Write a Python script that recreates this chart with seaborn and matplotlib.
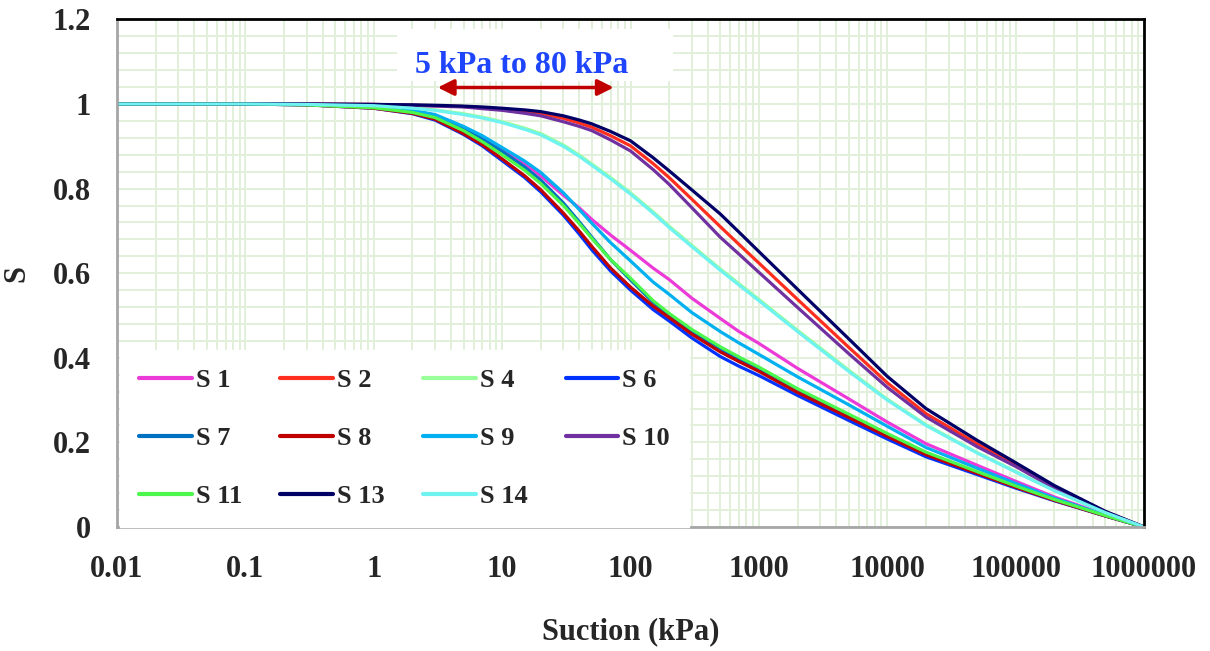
import numpy as np
import pandas as pd
import matplotlib
matplotlib.use("Agg")
import matplotlib.pyplot as plt
import seaborn as sns
from matplotlib.ticker import LogLocator, MultipleLocator, FixedLocator, FixedFormatter, NullFormatter
from matplotlib.patches import Rectangle

# ---------------- data ----------------
suction = [0.01, 0.1, 0.3, 1, 2, 3, 5, 7, 10, 15, 20, 30, 40, 50, 70, 100, 150, 200, 300,
           500, 700, 1000, 2000, 5000, 1e4, 2e4, 5e4, 1e5, 2e5, 5e5, 1e6]

s1 = [1, 1, 0.999, 0.993, 0.984, 0.974, 0.945, 0.922, 0.893, 0.859, 0.83, 0.784, 0.754, 0.727,
      0.69, 0.654, 0.612, 0.585, 0.541, 0.493, 0.462, 0.434, 0.375, 0.303, 0.248, 0.197, 0.146,
      0.108, 0.071, 0.029, 0]
s2 = [1, 1, 1, 0.999, 0.997, 0.996, 0.994, 0.991, 0.988, 0.983, 0.978, 0.966, 0.955, 0.945,
      0.925, 0.901, 0.859, 0.826, 0.775, 0.71, 0.668, 0.624, 0.538, 0.425, 0.341, 0.268, 0.197,
      0.147, 0.095, 0.036, 0]
s4 = [1, 1, 0.999, 0.996, 0.991, 0.986, 0.977, 0.969, 0.958, 0.943, 0.93, 0.903, 0.879, 0.858,
      0.826, 0.79, 0.745, 0.711, 0.666, 0.61, 0.575, 0.538, 0.465, 0.371, 0.302, 0.242, 0.176,
      0.131, 0.086, 0.034, 0]
s6 = [1, 1, 0.998, 0.99, 0.977, 0.962, 0.928, 0.901, 0.866, 0.826, 0.792, 0.737, 0.692, 0.655,
      0.605, 0.56, 0.514, 0.487, 0.447, 0.403, 0.38, 0.358, 0.311, 0.252, 0.208, 0.166, 0.124,
      0.092, 0.062, 0.026, 0]
s7 = [1, 1, 0.998, 0.992, 0.982, 0.971, 0.941, 0.917, 0.888, 0.851, 0.82, 0.766, 0.721, 0.685,
      0.632, 0.584, 0.531, 0.5, 0.461, 0.418, 0.395, 0.372, 0.322, 0.263, 0.218, 0.174, 0.129,
      0.095, 0.064, 0.026, 0]
s8 = [1, 1, 0.998, 0.99, 0.978, 0.964, 0.93, 0.904, 0.87, 0.83, 0.797, 0.742, 0.699, 0.663,
      0.612, 0.567, 0.522, 0.495, 0.456, 0.414, 0.391, 0.368, 0.318, 0.259, 0.214, 0.171, 0.127,
      0.094, 0.063, 0.026, 0]
s9 = [1, 1, 0.999, 0.993, 0.985, 0.975, 0.947, 0.925, 0.897, 0.865, 0.838, 0.79, 0.75, 0.718,
      0.672, 0.629, 0.579, 0.55, 0.507, 0.462, 0.435, 0.408, 0.355, 0.289, 0.238, 0.188, 0.139,
      0.103, 0.068, 0.028, 0]
s10 = [1, 1, 1, 0.999, 0.997, 0.995, 0.993, 0.989, 0.985, 0.978, 0.972, 0.958, 0.947, 0.937,
       0.915, 0.889, 0.845, 0.81, 0.755, 0.685, 0.645, 0.602, 0.519, 0.41, 0.33, 0.26, 0.19,
       0.143, 0.092, 0.035, 0]
s11 = [1, 1, 0.998, 0.991, 0.98, 0.968, 0.937, 0.911, 0.88, 0.843, 0.812, 0.76, 0.717, 0.682,
       0.632, 0.588, 0.535, 0.505, 0.467, 0.426, 0.402, 0.378, 0.327, 0.267, 0.221, 0.177, 0.131,
       0.097, 0.065, 0.027, 0]
s13 = [1, 1, 1, 0.999, 0.998, 0.997, 0.995, 0.993, 0.99, 0.986, 0.982, 0.972, 0.962, 0.953,
       0.935, 0.913, 0.873, 0.842, 0.797, 0.74, 0.697, 0.651, 0.562, 0.445, 0.356, 0.28, 0.205,
       0.152, 0.098, 0.037, 0]
s14 = [1, 1, 0.999, 0.996, 0.99, 0.985, 0.975, 0.967, 0.956, 0.94, 0.927, 0.9, 0.876, 0.855,
       0.823, 0.787, 0.742, 0.708, 0.663, 0.607, 0.572, 0.535, 0.462, 0.368, 0.30, 0.24, 0.175,
       0.13, 0.086, 0.034, 0]

series_names = ["S 1", "S 2", "S 4", "S 6", "S 7", "S 8", "S 9", "S 10", "S 11", "S 13", "S 14"]
series_values = [s1, s2, s4, s6, s7, s8, s9, s10, s11, s13, s14]
series_colors = ["#ec3ad8", "#ff2e1f", "#99ff99", "#0032ff", "#0070c0", "#c00000",
                 "#00b0f0", "#7030a0", "#4cf74c", "#000066", "#6ff3f0"]

x_ticks = [0.01, 0.1, 1, 10, 100, 1000, 10000, 100000, 1000000]
x_tick_labels = ["0.01", "0.1", "1", "10", "100", "1000", "10000", "100000", "1000000"]
y_ticks = [0, 0.2, 0.4, 0.6, 0.8, 1.0, 1.2]
y_tick_labels = ["0", "0.2", "0.4", "0.6", "0.8", "1", "1.2"]

range_text = "5 kPa to 80 kPa"
range_arrow = [3.15, 74]

# ---------------- style ----------------
sns.set_theme(style="white")
plt.rcParams["font.family"] = ["Liberation Serif", "DejaVu Serif"]
plt.rcParams["font.weight"] = "bold"
plt.rcParams["axes.labelweight"] = "bold"

fig = plt.figure(figsize=(12.10, 6.51), dpi=100)
ax = fig.add_axes([0.0967, 0.1905, 0.8488, 0.7797])

grid_color = "#e2efda"

for name, vals, col in zip(series_names, series_values, series_colors):
    df = pd.DataFrame({"Suction": suction, "S": vals})
    sns.lineplot(data=df, x="Suction", y="S", color=col, linewidth=2.3,
                 label=name, ax=ax, sort=False)

ax.set_xscale("log")
ax.set_xlim(0.01, 1e6)
ax.set_ylim(0, 1.2)

ax.xaxis.set_major_locator(FixedLocator(x_ticks))
ax.xaxis.set_major_formatter(FixedFormatter(x_tick_labels))
ax.xaxis.set_minor_locator(LogLocator(base=10, subs=np.arange(2, 10), numticks=100))
ax.xaxis.set_minor_formatter(NullFormatter())
ax.yaxis.set_major_locator(FixedLocator(y_ticks))
ax.yaxis.set_major_formatter(FixedFormatter(y_tick_labels))
ax.yaxis.set_minor_locator(MultipleLocator(0.04))

ax.grid(True, which="both", color=grid_color, linewidth=1.4)
ax.set_axisbelow(True)

ax.tick_params(axis="both", which="both", length=0, labelsize=22)
ax.tick_params(axis="x", pad=20)
ax.tick_params(axis="y", pad=19)
for lab in ax.get_xticklabels() + ax.get_yticklabels():
    lab.set_fontweight("bold")

ax.set_xlabel("Suction (kPa)", fontsize=22, fontweight="bold")
ax.set_ylabel("S", fontsize=22, fontweight="bold")
ax.xaxis.set_label_coords(0.5, -0.178)
ax.yaxis.set_label_coords(-0.083, 0.5)

for side in ["top", "right"]:
    ax.spines[side].set_color("black")
    ax.spines[side].set_linewidth(2)
for side in ["left", "bottom"]:
    ax.spines[side].set_color("#a6a6a6")
    ax.spines[side].set_linewidth(2)

# white box behind the range label
ax.add_patch(Rectangle((1.52, 1.054), 214 - 1.52, 1.178 - 1.054, facecolor="white",
                       edgecolor="none", zorder=1))
ax.text(14.2, 1.091, range_text, color="#1f45fc", fontsize=23,
        fontweight="bold", ha="center", va="center", zorder=3)
ax.annotate("", xy=(range_arrow[1], 1.039), xytext=(range_arrow[0], 1.039),
            arrowprops=dict(arrowstyle="<|-|>", color="#c00000", lw=2.5,
                            mutation_scale=24, shrinkA=0, shrinkB=0), zorder=3)

# legend ordered row-wise like the reference (4 columns)
handles, labels = ax.get_legend_handles_labels()
order_rows = [[0, 1, 2, 3], [4, 5, 6, 7], [8, 9, 10]]
ncol = 4
order = []
for c in range(ncol):
    for r in order_rows:
        if c < len(r):
            order.append(r[c])
leg = ax.legend([handles[i] for i in order], [labels[i] for i in order],
                ncol=ncol, loc="lower left", bbox_to_anchor=(0.003, 0.0),
                frameon=True, fancybox=False, framealpha=1,
                edgecolor="white", facecolor="white", handlelength=2.0,
                handletextpad=0.15, columnspacing=1.45, labelspacing=1.3,
                borderpad=0.72, borderaxespad=0.0, prop={"weight": "bold", "size": 19})
for line in leg.get_lines():
    line.set_linewidth(3)

fig.savefig("out.png", dpi=100)
